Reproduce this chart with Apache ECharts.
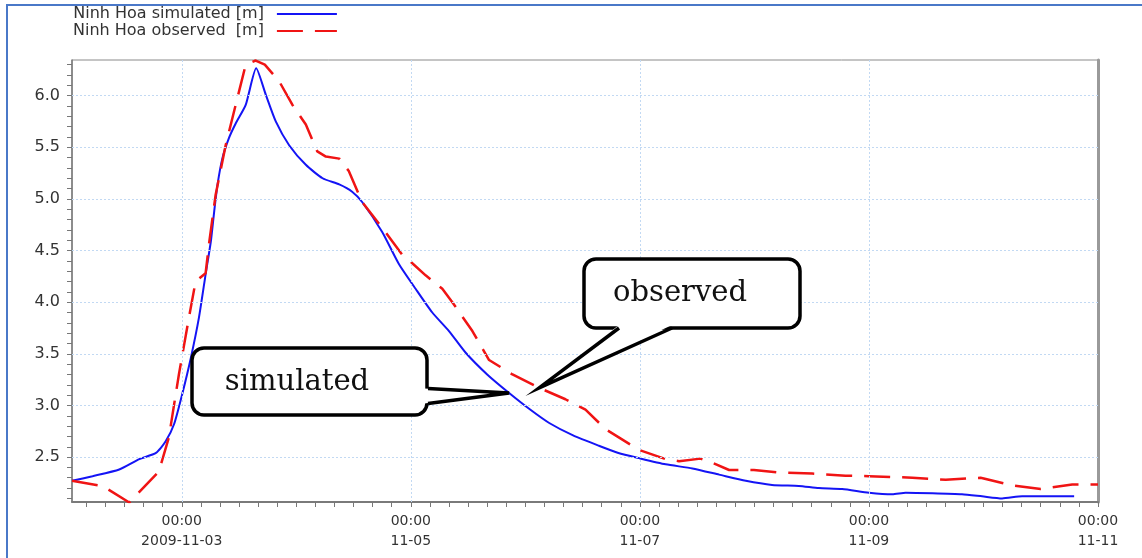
<!DOCTYPE html>
<html>
<head>
<meta charset="utf-8">
<script src="https://cdn.jsdelivr.net/npm/echarts@6/dist/echarts.min.js"></script>
<style>
html,body{margin:0;padding:0;background:#fff}
#mybox{width:1142px;height:558px}
</style>
</head>
<body>
<div id="mybox"></div>
<script>
// time = hours since 2009-11-03 00:00
var simHours  = [-23, -18.7, -13.1, -8.9, -5.4, -3.4, -1.6, 0.1, 1.9, 3.6, 5.0, 6.1, 6.8, 7.5, 8.5, 9.9, 11.3, 13.4, 15.6, 17.6, 19.7, 22.5, 26.0, 29.5, 33.0, 35.7, 37.8, 42.0, 45.5, 49.0, 52.5, 56.0, 59.5, 64.0, 68.6, 73.0, 77.0, 82.0, 87.4, 91.5, 95.8, 101.4, 107.0, 112.6, 118.2, 123.7, 129.3, 133.5, 138.4, 144.0, 148.9, 151.7, 157.3, 163.5, 167.7, 171.9, 176.1, 187.0];
var simValues = [2.27, 2.315, 2.38, 2.48, 2.54, 2.65, 2.82, 3.11, 3.46, 3.85, 4.27, 4.59, 4.88, 5.14, 5.39, 5.59, 5.73, 5.91, 6.265, 6.01, 5.75, 5.52, 5.33, 5.20, 5.14, 5.07, 4.97, 4.68, 4.37, 4.13, 3.90, 3.72, 3.51, 3.30, 3.12, 2.96, 2.83, 2.71, 2.61, 2.54, 2.49, 2.43, 2.39, 2.33, 2.27, 2.23, 2.22, 2.20, 2.19, 2.155, 2.14, 2.155, 2.15, 2.14, 2.12, 2.10, 2.12, 2.12];

var obsHours  = [-23, -16.6, -11.0, -4.8, -2.7, -0.6, 1.5, 2.9, 5.0, 5.7, 7.1, 9.2, 11.3, 13.4, 15.5, 17.4, 20.4, 23.2, 26.0, 28.4, 30.2, 33.0, 35.0, 37.8, 42.0, 46.2, 48.0, 51.1, 54.6, 56.7, 60.9, 64.4, 69.3, 74.9, 80.4, 84.6, 88.8, 95.8, 101.4, 104.2, 108.7, 111.2, 114.7, 119.9, 125.1, 132.1, 139.1, 144.0, 153.1, 160.1, 167.4, 174.0, 180.0, 186.6, 192];
var obsValues = [2.27, 2.22, 2.06, 2.36, 2.69, 3.30, 3.85, 4.20, 4.28, 4.56, 5.04, 5.52, 5.91, 6.30, 6.34, 6.30, 6.14, 5.91, 5.72, 5.46, 5.41, 5.39, 5.27, 4.97, 4.72, 4.46, 4.39, 4.26, 4.13, 4.00, 3.72, 3.44, 3.30, 3.17, 3.06, 2.96, 2.77, 2.57, 2.48, 2.46, 2.485, 2.445, 2.375, 2.375, 2.35, 2.34, 2.32, 2.315, 2.30, 2.28, 2.30, 2.225, 2.19, 2.235, 2.235];

var seriesNames = ['Ninh Hoa simulated [m]', 'Ninh Hoa observed  [m]'];

// x axis: labels every 2 days, small ticks every 4 hours
var xLabelHours = [0, 48, 96, 144, 192];
var xLabelText  = ['00:00\n2009-11-03', '00:00\n11-05', '00:00\n11-07', '00:00\n11-09', '00:00\n11-11'];
var xMin = -23, xMax = 192;
var xTickHours = [];
for (var t = -20; t <= xMax; t += 4) xTickHours.push(t);

// y axis
var yLabelValues = [2.5, 3.0, 3.5, 4.0, 4.5, 5.0, 5.5, 6.0];
var yMin = 2.065, yMax = 6.345;
var yTickValues = [];
for (var k = 21; k <= 63; k++) yTickValues.push(k / 10);

// callout texts
var calloutSim = 'simulated';
var calloutObs = 'observed';
var simTip = [68.6, 3.12];
var obsTip = [74.9, 3.17];

var pair = function (xs, ys) { return xs.map(function (x, i) { return [x, ys[i]]; }); };

var mycharts = echarts.init(document.getElementById('mybox'));

var gridColor = '#c2d9f3';
var option = {
    animation: false,
    backgroundColor: '#fff',
    legend: {
        orient: 'vertical',
        left: 68,
        top: 1,
        align: 'right',
        itemWidth: 60,
        itemHeight: 8,
        itemGap: 1,
        itemStyle: { opacity: 0 },
        data: seriesNames,
        textStyle: { fontFamily: 'DejaVu Sans', fontSize: 16, color: '#333', padding: [0, 8, 0, 0] }
    },
    grid: {
        left: 72, right: 44, top: 60, bottom: 56,
        show: true, borderColor: '#8a8a8a', borderWidth: 1
    },
    xAxis: {
        type: 'value',
        min: xMin, max: xMax,
        axisLine: { show: true, onZero: false, lineStyle: { color: '#7a7a7a', width: 2 } },
        axisTick: { show: true, customValues: xTickHours, length: 5, lineStyle: { color: '#777' } },
        axisLabel: {
            customValues: xLabelHours,
            margin: 9,
            fontFamily: 'DejaVu Sans', fontSize: 14, color: '#333', lineHeight: 20,
            formatter: function (v) { var i = xLabelHours.indexOf(v); return i >= 0 ? xLabelText[i] : ''; }
        },
        splitLine: { show: false }
    },
    yAxis: [{
        type: 'value',
        min: yMin, max: yMax,
        axisLine: { show: true, onZero: false, lineStyle: { color: '#7a7a7a', width: 1.5 } },
        axisTick: { show: true, customValues: yTickValues, length: 5, lineStyle: { color: '#777' } },
        axisLabel: {
            customValues: yLabelValues,
            margin: 12,
            fontFamily: 'DejaVu Sans', fontSize: 16, color: '#333',
            formatter: function (v) { return v.toFixed(1); }
        },
        splitLine: { show: false }
    }, {
        type: 'value',
        position: 'right',
        min: yMin, max: yMax,
        axisLine: { show: true, onZero: false, lineStyle: { color: '#9a9a9a', width: 3 } },
        axisTick: { show: false },
        axisLabel: { show: false },
        splitLine: { show: false }
    }],
    series: [
        {
            // grid lines
            name: 'grid',
            type: 'line',
            data: [],
            silent: true,
            z: 1,
            markLine: {
                silent: true,
                symbol: ['none', 'none'],
                label: { show: false },
                lineStyle: { color: gridColor, type: [2, 2], width: 1 },
                data: xLabelHours.slice(0, 4).map(function (h) { return { xAxis: h }; })
                    .concat(yLabelValues.map(function (v) { return { yAxis: v }; }))
            }
        },
        {
            name: seriesNames[0],
            type: 'line',
            data: pair(simHours, simValues),
            symbol: 'none',
            smooth: 0.2,
            z: 3,
            itemStyle: { color: '#1414f5' },
            lineStyle: { color: '#1414f5', width: 2 }
        },
        {
            name: seriesNames[1],
            type: 'line',
            data: pair(obsHours, obsValues),
            symbol: 'none',
            z: 4,
            itemStyle: { color: '#f01414' },
            lineStyle: { color: '#f01414', width: 2.5, type: [26, 12] }
        }
    ]
};
mycharts.setOption(option);

// callout boxes with pointer tails
function callout(box, a, b, tip, text, textPos) {
    var lw = 3.5;
    return [
        { type: 'rect', z: 100, shape: { x: box[0], y: box[1], width: box[2], height: box[3], r: 12 },
          style: { fill: '#fff', stroke: '#000', lineWidth: lw } },
        { type: 'polygon', z: 101, shape: { points: [a[0], tip, b[0]] }, style: { fill: '#fff' } },
        { type: 'polyline', z: 102, shape: { points: [a[1], tip, b[1]] },
          style: { fill: null, stroke: '#000', lineWidth: lw } },
        { type: 'text', z: 103, x: textPos[0], y: textPos[1],
          style: { text: text, font: '29px "DejaVu Serif"', fill: '#111', align: 'center', verticalAlign: 'middle' } }
    ];
}
var tipS = mycharts.convertToPixel({ gridIndex: 0 }, simTip);
var tipO = mycharts.convertToPixel({ gridIndex: 0 }, obsTip);
var els = [
    { type: 'rect', z: 0, shape: { x: 7, y: 5, width: 1200, height: 600 },
      style: { fill: null, stroke: '#4a78c8', lineWidth: 2 } }
];
els = els.concat(callout([192, 348, 235, 67], [[424, 388.5], [428, 388.5]], [[424, 403.5], [428, 403.5]], tipS, calloutSim, [297, 382]));
els = els.concat(callout([584, 259, 216, 69], [[619, 325], [619, 328]], [[672, 325], [672, 328]], tipO, calloutObs, [680, 293]));
mycharts.setOption({ graphic: { elements: els } });
</script>
</body>
</html>
